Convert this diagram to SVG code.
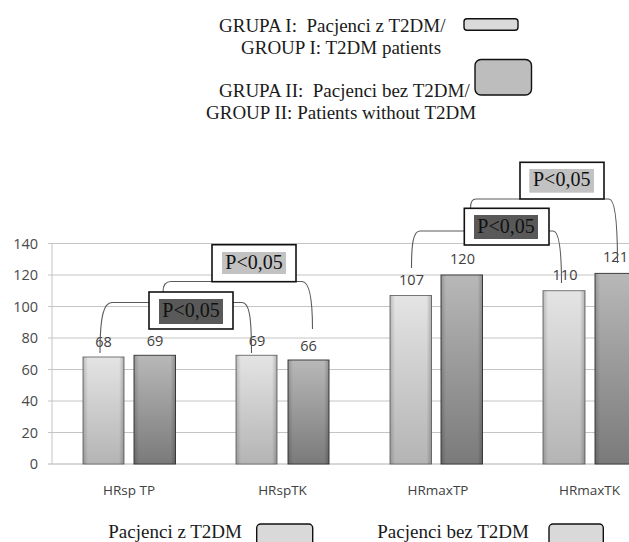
<svg xmlns="http://www.w3.org/2000/svg" width="629" height="542" viewBox="0 0 629 542">
<style>
.serif{font-family:"Liberation Serif","Times New Roman",serif;fill:#1a1a1a}
.leg{font-size:19px;white-space:pre}
.ax{font-family:"Open Sans","Liberation Sans",sans-serif;font-size:14.5px;fill:#4a4a4a}
.dl{font-family:"Open Sans","Liberation Sans",sans-serif;font-size:14.5px;fill:#404040;text-anchor:middle}
.cat{font-family:"Open Sans","Liberation Sans",sans-serif;font-size:13.5px;fill:#404040;text-anchor:middle}
.grid{stroke:#c4c4c4;stroke-width:1}
.box{fill:#fff;stroke:#111;stroke-width:1.6}
.pt{font-family:"Liberation Serif","Times New Roman",serif;font-size:20px;fill:#111;text-anchor:middle}
.con{fill:none;stroke:#5a5a5a;stroke-width:1.1}
.lb{fill:url(#gl);stroke:#777;stroke-width:1}
.db{fill:url(#gd);stroke:#404040;stroke-width:1}
.sw{stroke:#111;stroke-width:1.4}
</style>
<defs>
<linearGradient id="gl" x1="0" y1="0" x2="0" y2="1">
<stop offset="0" stop-color="#e4e4e4"/>
<stop offset="1" stop-color="#b4b4b4"/>
</linearGradient>
<linearGradient id="gd" x1="0" y1="0" x2="0" y2="1">
<stop offset="0" stop-color="#b8b8b8"/>
<stop offset="1" stop-color="#7a7a7a"/>
</linearGradient>
<linearGradient id="side" x1="0" y1="0" x2="1" y2="0">
<stop offset="0" stop-color="#000" stop-opacity="0.18"/>
<stop offset="0.12" stop-color="#000" stop-opacity="0"/>
<stop offset="0.88" stop-color="#000" stop-opacity="0"/>
<stop offset="1" stop-color="#000" stop-opacity="0.22"/>
</linearGradient>
</defs>

<g id="legend-top">
<text class="serif leg" x="219" y="32">GRUPA I:  Pacjenci z T2DM/</text>
<text class="serif leg" x="241" y="53.5">GROUP I: T2DM patients</text>
<text class="serif leg" x="219" y="97">GRUPA II:  Pacjenci bez T2DM/</text>
<text class="serif leg" x="206" y="118.5">GROUP II: Patients without T2DM</text>
<rect class="sw" x="464" y="18.7" width="54" height="11.5" rx="3" fill="#dadada"/>
<rect class="sw" x="475" y="59.5" width="56.5" height="35.5" rx="6" fill="#bdbdbd"/>
</g>

<g id="axes">
<line class="grid" x1="48" y1="243.5" x2="629" y2="243.5"/>
<line class="grid" x1="48" y1="275" x2="629" y2="275"/>
<line class="grid" x1="48" y1="306.5" x2="629" y2="306.5"/>
<line class="grid" x1="48" y1="338" x2="629" y2="338"/>
<line class="grid" x1="48" y1="369.5" x2="629" y2="369.5"/>
<line class="grid" x1="48" y1="401" x2="629" y2="401"/>
<line class="grid" x1="48" y1="432.5" x2="629" y2="432.5"/>
<line x1="48" y1="464" x2="629" y2="464" stroke="#b0b0b0" stroke-width="1"/>
<line class="grid" x1="52" y1="243.5" x2="52" y2="464"/>
<g text-anchor="end">
<text class="ax" x="38" y="248.5">140</text>
<text class="ax" x="38" y="280">120</text>
<text class="ax" x="38" y="311.5">100</text>
<text class="ax" x="38" y="343">80</text>
<text class="ax" x="38" y="374.5">60</text>
<text class="ax" x="38" y="406">40</text>
<text class="ax" x="38" y="437.5">20</text>
<text class="ax" x="38" y="469">0</text>
</g>
<text class="cat" x="129" y="495">HRsp TP</text>
<text class="cat" x="282.5" y="495">HRspTK</text>
<text class="cat" x="438" y="495">HRmaxTP</text>
<text class="cat" x="589.5" y="495">HRmaxTK</text>
</g>

<g id="bars">
<rect class="lb" x="83" y="357" width="41" height="107"/>
<rect x="83" y="357" width="41" height="107" fill="url(#side)"/>
<rect class="db" x="134" y="355.3" width="41.5" height="108.7"/>
<rect x="134" y="355.3" width="41.5" height="108.7" fill="url(#side)"/>
<rect class="lb" x="236" y="355.3" width="41" height="108.7"/>
<rect x="236" y="355.3" width="41" height="108.7" fill="url(#side)"/>
<rect class="db" x="288" y="360" width="41" height="104"/>
<rect x="288" y="360" width="41" height="104" fill="url(#side)"/>
<rect class="lb" x="390" y="295.5" width="41.5" height="168.5"/>
<rect x="390" y="295.5" width="41.5" height="168.5" fill="url(#side)"/>
<rect class="db" x="441" y="275" width="41.5" height="189"/>
<rect x="441" y="275" width="41.5" height="189" fill="url(#side)"/>
<rect class="lb" x="543" y="290.7" width="42" height="173.3"/>
<rect x="543" y="290.7" width="42" height="173.3" fill="url(#side)"/>
<rect class="db" x="595" y="273.4" width="42" height="190.6"/>
<rect x="595" y="273.4" width="42" height="190.6" fill="url(#side)"/>
</g>

<g id="data-labels">
<text class="dl" x="103.5" y="347">68</text>
<text class="dl" x="155" y="345.5">69</text>
<text class="dl" x="257" y="345.5">69</text>
<text class="dl" x="308.5" y="350.5">66</text>
<text class="dl" x="411.5" y="284.5">107</text>
<text class="dl" x="462.5" y="263.5">120</text>
<text class="dl" x="565" y="280">110</text>
<text class="dl" x="615.5" y="262">121</text>
</g>

<g id="connectors">
<path class="con" d="M149,302.5 L112,302.5 C104,302.5 100,315 100,353"/>
<path class="con" d="M233,302.5 L242,302.5 C249,302.5 251.5,315 251.5,353"/>
<path class="con" d="M212,281.5 L171,281.5 C165,281.5 163,285 163,292"/>
<path class="con" d="M296,281.5 L302,281.5 C308,281.5 312.5,295 312.5,329"/>
<path class="con" d="M464,231 L420,231 C413,231 411.5,245 411.5,268"/>
<path class="con" d="M549,231 L553,231 C558,231 561.5,245 561.5,283"/>
<path class="con" d="M520,199 L476,199 C472,199 470.5,202 470.5,208"/>
<path class="con" d="M604,199 L609,199 C614,199 617.5,215 617.5,263"/>
</g>

<g id="p-box-a">
<rect class="box" x="149" y="292" width="84" height="37"/>
<rect x="159" y="299" width="64" height="25" fill="#595959"/>
<text class="pt" x="191" y="317">P&lt;0,05</text>
</g>
<g id="p-box-b">
<rect class="box" x="212" y="244.7" width="84" height="37"/>
<rect x="222" y="252" width="64" height="22" fill="#c2c2c2"/>
<text class="pt" x="254" y="269">P&lt;0,05</text>
</g>
<g id="p-box-c">
<rect class="box" x="464.3" y="208.3" width="84.7" height="36.7"/>
<rect x="474" y="215" width="64" height="24" fill="#595959"/>
<text class="pt" x="506" y="233">P&lt;0,05</text>
</g>
<g id="p-box-d">
<rect class="box" x="520" y="162.3" width="84" height="36.7"/>
<rect x="529.3" y="169" width="64.7" height="23.7" fill="#c2c2c2"/>
<text class="pt" x="561.7" y="186">P&lt;0,05</text>
</g>

<g id="legend-bottom">
<text class="serif" x="108.3" y="537.5" font-size="19">Pacjenci z T2DM</text>
<rect class="sw" x="256.7" y="524" width="56" height="30" rx="4" fill="#d9d9d9"/>
<text class="serif" x="377.3" y="537.5" font-size="19">Pacjenci bez T2DM</text>
<rect class="sw" x="549" y="524" width="54.3" height="30" rx="4" fill="#d9d9d9"/>
</g>
</svg>
